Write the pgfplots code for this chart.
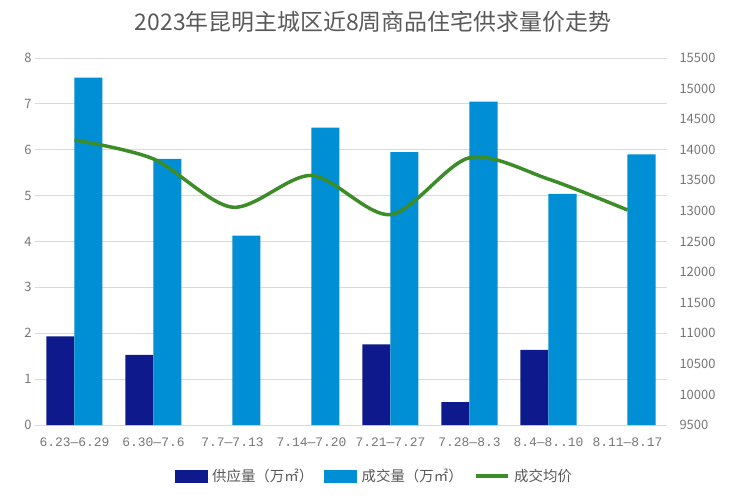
\documentclass[border=0pt]{standalone}
\usepackage{fontspec}
\setmainfont{Noto Sans CJK SC}
\newfontfamily\xmono{Liberation Mono}
\usepackage{pgfplots}
\pgfplotsset{compat=1.18}
\definecolor{supply}{RGB}{14,26,140}
\definecolor{deal}{RGB}{0,143,213}
\definecolor{price}{RGB}{60,140,40}
\definecolor{txt}{RGB}{89,89,89}
\definecolor{tickgray}{RGB}{118,118,118}
\definecolor{gridc}{RGB}{217,217,217}
\begin{document}
\begin{tikzpicture}
\path (-35bp,-77bp) rectangle (705bp,425bp);
\begin{axis}[
  at={(0,0)}, anchor=south west, scale only axis,
  width=632bp, height=367bp,
  xmin=-0.5, xmax=7.5, ymin=0, ymax=8,
  ytick={0,1,...,8},
  xtick={0,1,...,7},
  xticklabels={6.23—6.29,6.30—7.6,7.7—7.13,7.14—7.20,7.21—7.27,7.28—8.3,8.4—8..10,8.11—8.17},
  ymajorgrids, grid style={draw=gridc, line width=0.8bp},
  axis line style={draw=none},
  tick style={draw=none},
  yticklabel style={font=\fontsize{13}{15}\selectfont, text=tickgray},
  xticklabel style={font=\xmono\fontsize{13}{15}\selectfont, text=tickgray, yshift=-5bp},
  /pgf/number format/assume math mode=true,
  ybar=0pt, bar width=28bp,
]
\addplot[fill=supply, draw=none] coordinates {(0,1.93) (1,1.53) (4,1.76) (5,0.50) (6,1.64)};
\addplot[fill=deal, draw=none] coordinates {(0,7.57) (1,5.80) (2,4.13) (3,6.48) (4,5.95) (5,7.05) (6,5.04) (7,5.90)};
\end{axis}
\begin{axis}[
  at={(0,0)}, anchor=south west, scale only axis,
  width=632bp, height=367bp,
  xmin=-0.5, xmax=7.5, ymin=9500, ymax=15500,
  ytick={9500,10000,...,15500},
  scaled y ticks=false,
  hide x axis,
  yticklabel pos=right,
  axis line style={draw=none},
  tick style={draw=none},
  yticklabel style={font=\fontsize{13}{15}\selectfont, text=tickgray, xshift=9bp},
  /pgf/number format/assume math mode=true,
  /pgf/number format/1000 sep={},
  legend columns=3,
  legend style={draw=none, at={(0.537,-0.139)}, anchor=center,
    font=\fontsize{14.5}{16}\selectfont, text=txt,
    /tikz/every even column/.append style={column sep=9bp}},
]
\addlegendimage{legend image code/.code={\fill[supply] (0bp,-6bp) rectangle (32bp,6bp); \path (35bp,0bp);}}
\addlegendentry{供应量（万㎡）}
\addlegendimage{legend image code/.code={\fill[deal] (0bp,-6bp) rectangle (32bp,6bp); \path (35bp,0bp);}}
\addlegendentry{成交量（万㎡）}
\addplot[price, line width=3.5bp, smooth, mark=none,
  legend image code/.code={\draw[price, line width=3.5bp] (0bp,0bp) -- (32bp,0bp); \path (35bp,0bp);}]
  coordinates {(0,14160) (1,13850) (2,13060) (3,13580) (4,12940) (5,13870) (6,13520) (7,13015)};
\addlegendentry{成交均价}
\end{axis}
\node[font=\fontsize{23}{27}\selectfont, text=txt] at (338bp,403bp) {2023年昆明主城区近8周商品住宅供求量价走势};
\end{tikzpicture}
\end{document}
